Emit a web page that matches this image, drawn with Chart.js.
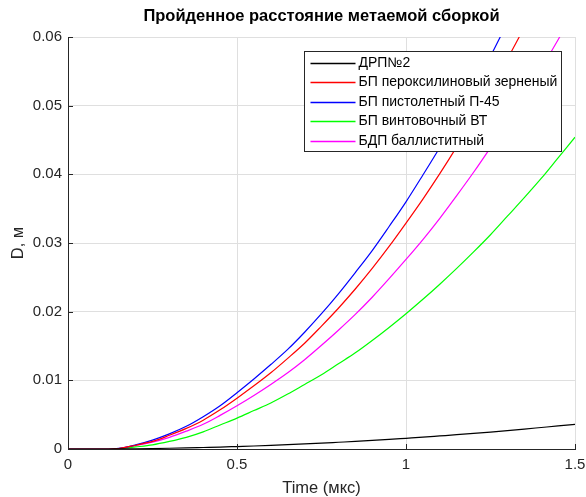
<!DOCTYPE html>
<html>
<head>
<meta charset="utf-8">
<script src="https://cdn.jsdelivr.net/npm/chart.js@4.4.0/dist/chart.umd.min.js"></script>
<style>
  html, body { margin: 0; padding: 0; background: #fff; }
  #wrap { width: 586px; height: 497px; }
</style>
</head>
<body>
<div id="wrap"><canvas id="c" width="586" height="497"></canvas></div>
<script>
const time = [0, 0.05, 0.1, 0.12, 0.15, 0.2, 0.25, 0.3, 0.35, 0.4, 0.45, 0.5, 0.55, 0.6, 0.65, 0.7, 0.75, 0.8, 0.85, 0.9, 0.95, 1.0, 1.05, 1.1, 1.15, 1.2, 1.25, 1.3, 1.35, 1.4, 1.45, 1.5];

const drp2 = [0, 0, 0, 0, 0.00002, 0.00004, 0.00007, 0.00011, 0.00016, 0.00022, 0.00028, 0.00036, 0.00044, 0.00053, 0.00063, 0.00074, 0.00085, 0.00098, 0.00111, 0.00125, 0.0014, 0.00156, 0.00172, 0.0019, 0.00208, 0.00227, 0.00247, 0.00268, 0.0029, 0.00313, 0.00336, 0.0036];
const bpPerox = [0, 0, 0, 0, 0.00007, 0.00055, 0.0011, 0.002, 0.003, 0.0042, 0.0057, 0.0074, 0.0092, 0.0111, 0.0132, 0.0154, 0.0179, 0.0205, 0.0233, 0.0263, 0.0295, 0.0329, 0.0364, 0.0401, 0.044, 0.0481, 0.0523, 0.0568, 0.0614];
const bpPist = [0, 0, 0, 0, 0.00008, 0.0006, 0.0013, 0.0022, 0.0033, 0.0047, 0.0063, 0.0082, 0.0102, 0.0123, 0.0145, 0.017, 0.0197, 0.0226, 0.0257, 0.0289, 0.0324, 0.036, 0.0399, 0.0439, 0.0482, 0.0526, 0.0572, 0.0621];
const bpVint = [0, 0, 0, 0, 0.00004, 0.0003, 0.0006, 0.0011, 0.0017, 0.0025, 0.0035, 0.0045, 0.0056, 0.0067, 0.008, 0.0094, 0.0108, 0.0124, 0.014, 0.0158, 0.0177, 0.0197, 0.0218, 0.024, 0.0263, 0.0287, 0.0312, 0.0339, 0.0366, 0.0394, 0.0424, 0.0454];
const bdpBall = [0, 0, 0, 0, 0.00006, 0.0005, 0.001, 0.0017, 0.0026, 0.0036, 0.0049, 0.0063, 0.0078, 0.0094, 0.0111, 0.013, 0.0151, 0.0173, 0.0196, 0.0221, 0.0248, 0.0276, 0.0305, 0.0336, 0.0369, 0.0403, 0.0439, 0.0476, 0.0514, 0.0554, 0.0596, 0.0639];

const seriesNames = ['ДРП№2', 'БП пероксилиновый зерненый', 'БП пистолетный П-45', 'БП винтовочный ВТ', 'БДП баллиститный'];
const seriesValues = [drp2, bpPerox, bpPist, bpVint, bdpBall];
const seriesColors = ['#000000', '#ff0000', '#0000ff', '#00ff00', '#ff00ff'];

const xTicks = [0, 0.5, 1, 1.5];
const yTicks = [0, 0.01, 0.02, 0.03, 0.04, 0.05, 0.06];

const FONT = "'Liberation Sans', Arial, Helvetica, sans-serif";
const AXIS_COLOR = '#262626';

const datasets = seriesValues.map((vals, k) => ({
  label: seriesNames[k],
  data: vals.map((v, i) => ({ x: time[i], y: v })),
  borderColor: seriesColors[k],
  backgroundColor: seriesColors[k],
  borderWidth: 1.2,
  pointRadius: 0,
  fill: false,
  cubicInterpolationMode: 'monotone'
}));

const overlay = {
  id: 'overlay',
  afterDraw(chart) {
    const ctx = chart.ctx, a = chart.chartArea, xs = chart.scales.x, ys = chart.scales.y;
    ctx.save();
    ctx.strokeStyle = AXIS_COLOR;
    ctx.lineWidth = 1;
    ctx.beginPath();
    xs.ticks.forEach(t => {
      const p = Math.round(xs.getPixelForValue(t.value)) + 0.5;
      ctx.moveTo(p, a.bottom); ctx.lineTo(p, a.bottom - 5);
    });
    ys.ticks.forEach(t => {
      const p = Math.round(ys.getPixelForValue(t.value)) + 0.5;
      ctx.moveTo(a.left, p); ctx.lineTo(a.left + 5, p);
    });
    ctx.stroke();

    const bx = 304.5, by = 51.5, bw = 257, bh = 100;
    ctx.fillStyle = '#ffffff';
    ctx.fillRect(bx, by, bw, bh);
    ctx.strokeStyle = AXIS_COLOR;
    ctx.lineWidth = 1;
    ctx.strokeRect(bx, by, bw, bh);
    ctx.font = '14px ' + FONT;
    ctx.textBaseline = 'middle';
    ctx.textAlign = 'left';
    chart.data.datasets.forEach((ds, i) => {
      const y = Math.round(by + 11 + i * 19.5) + 0.5;
      ctx.strokeStyle = ds.borderColor;
      ctx.lineWidth = 1.6;
      ctx.beginPath();
      ctx.moveTo(bx + 6, y); ctx.lineTo(bx + 51, y);
      ctx.stroke();
      ctx.fillStyle = '#000000';
      ctx.fillText(ds.label, bx + 54, y);
    });
    ctx.restore();
  }
};

new Chart(document.getElementById('c'), {
  type: 'line',
  data: { datasets },
  options: {
    responsive: false,
    animation: false,
    devicePixelRatio: 1,
    layout: { padding: { left: 0, right: 11, top: 0, bottom: 0 } },
    plugins: {
      legend: { display: false },
      tooltip: { enabled: false },
      title: {
        display: true,
        fullSize: false,
        text: 'Пройденное расстояние метаемой сборкой',
        color: '#000000',
        font: { family: FONT, size: 16.5, weight: 'bold' },
        padding: { top: 7, bottom: 10.2 }
      }
    },
    scales: {
      x: {
        type: 'linear',
        min: 0, max: 1.5,
        afterBuildTicks: s => { s.ticks = xTicks.map(v => ({ value: v })); },
        afterFit: s => { s.height = 48; s.paddingLeft = 0; s.paddingRight = 0; },
        grid: { color: '#dfdfdf', lineWidth: 1, drawTicks: false },
        border: { display: true, color: AXIS_COLOR, width: 1 },
        ticks: { color: AXIS_COLOR, font: { family: FONT, size: 15 }, padding: 7, maxRotation: 0,
                 callback: v => String(v) },
        title: { display: true, text: 'Time (мкс)', color: AXIS_COLOR,
                 font: { family: FONT, size: 16.5 }, padding: { top: 0, bottom: -1 } }
      },
      y: {
        type: 'linear',
        min: 0, max: 0.06,
        afterBuildTicks: s => { s.ticks = yTicks.map(v => ({ value: v })); },
        afterFit: s => { s.width = 68; },
        grid: { color: '#dfdfdf', lineWidth: 1, drawTicks: false },
        border: { display: true, color: AXIS_COLOR, width: 1 },
        ticks: { color: AXIS_COLOR, font: { family: FONT, size: 15 }, padding: 6,
                 callback: v => String(v) },
        title: { display: true, text: 'D, м', color: AXIS_COLOR,
                 font: { family: FONT, size: 16.5 }, padding: { top: 9, bottom: 0 } }
      }
    }
  },
  plugins: [overlay]
});
</script>
</body>
</html>
